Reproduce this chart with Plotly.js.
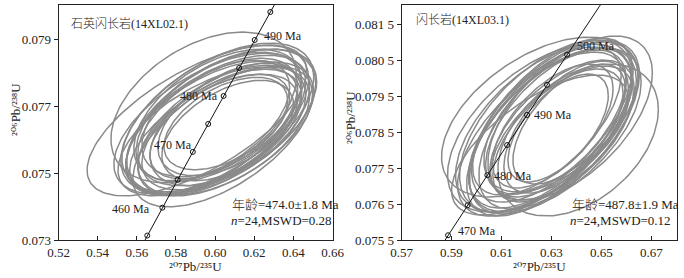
<!DOCTYPE html>
<html><head><meta charset="utf-8">
<script src="https://cdn.plot.ly/plotly-3.0.1.min.js"></script>
<style>html,body{margin:0;padding:0;background:#fff}#chart{width:684px;height:278px}</style>
</head><body><div id="chart"></div>
<script>
// ---- Data: left sample 14XL02.1 (quartz diorite): ellipse centre, half-widths, correlation ----
const L_cx  = [0.5907,0.5942,0.6039,0.6034,0.6014,0.5993,0.6055,0.5998,0.6034,0.5973,0.6065,0.6014,0.6044,0.5963,0.6075,0.6024,0.5993,0.6055,0.6034,0.5993,0.6055,0.6014,0.5983,0.6065];
const L_cy  = [0.07657,0.07696,0.07609,0.07654,0.07642,0.07636,0.07666,0.07660,0.07630,0.07648,0.07642,0.07672,0.07624,0.07624,0.07660,0.07639,0.07657,0.07633,0.07675,0.07615,0.07648,0.07666,0.07639,0.07627];
const L_sx  = [0.0561,0.0474,0.0459,0.0485,0.0469,0.0449,0.0459,0.0480,0.0408,0.0490,0.0398,0.0429,0.0439,0.0459,0.0367,0.0357,0.0388,0.0449,0.0408,0.0429,0.0316,0.0490,0.0439,0.0337];
const L_sy  = [0.00225,0.00225,0.00210,0.00216,0.00210,0.00198,0.00204,0.00222,0.00180,0.00210,0.00180,0.00198,0.00192,0.00192,0.00168,0.00156,0.00180,0.00198,0.00186,0.00180,0.00138,0.00222,0.00204,0.00150];
const L_rho = [0.66,0.42,0.60,0.55,0.55,0.55,0.50,0.55,0.55,0.58,0.50,0.50,0.55,0.60,0.50,0.55,0.55,0.55,0.50,0.58,0.50,0.55,0.58,0.50];
const L_markAges  = [455,460,465,470,475,480,485,490,495];
const L_labelAges = [460,470,480,490];
const L_lineAges  = [445,505];

// ---- Data: right sample 14XL03.1 (diorite) ----
const R_cx  = [0.6254,0.6407,0.6375,0.6310,0.6290,0.6331,0.6278,0.6318,0.6262,0.6343,0.6302,0.6359,0.6270,0.6322,0.6298,0.6335,0.6254,0.6371,0.6282,0.6314,0.6254,0.6347,0.6306,0.6327];
const R_cy  = [0.078917,0.078278,0.078889,0.078611,0.078500,0.078694,0.078667,0.078778,0.078444,0.078556,0.078833,0.078639,0.078611,0.078472,0.078722,0.078833,0.078611,0.078722,0.078806,0.078556,0.078139,0.078444,0.078667,0.078611];
const R_sx  = [0.03936,0.03213,0.03293,0.03373,0.03293,0.03213,0.03454,0.02811,0.03373,0.02892,0.03213,0.02490,0.03534,0.02651,0.03293,0.03052,0.03695,0.02249,0.02972,0.03454,0.03534,0.02811,0.02410,0.02008];
const R_sy  = [0.002222,0.002111,0.002278,0.002389,0.002333,0.002333,0.002389,0.002000,0.002278,0.001944,0.002278,0.001833,0.002333,0.001778,0.002333,0.002000,0.002333,0.001667,0.002056,0.002278,0.001944,0.001889,0.001722,0.001500];
const R_rho = [0.50,0.40,0.55,0.60,0.62,0.60,0.58,0.60,0.62,0.58,0.62,0.60,0.56,0.62,0.62,0.56,0.55,0.60,0.62,0.58,0.65,0.60,0.60,0.60];
const R_markAges  = [470,475,480,485,490,495,500];
const R_labelAges = [470,480,490,500];
const R_lineAges  = [460,515];

const L_xticks = [0.52,0.54,0.56,0.58,0.60,0.62,0.64,0.66];
const L_xtext  = ['0.52','0.54','0.56','0.58','0.60','0.62','0.64','0.66'];
const L_yticks = [0.073,0.075,0.077,0.079];
const L_ytext  = ['0.073','0.075','0.077','0.079'];
const R_xticks = [0.57,0.59,0.61,0.63,0.65,0.67];
const R_xtext  = ['0.57','0.59','0.61','0.63','0.65','0.67'];
const R_yticks = [0.0755,0.0765,0.0775,0.0785,0.0795,0.0805,0.0815];
const R_ytext  = ['0.075 5','0.076 5','0.077 5','0.078 5','0.079 5','0.080 5','0.081 5'];

// U decay constants (per year) for the concordia curve
const L238 = 1.55125e-10, L235 = 9.8485e-10;
function conc(ageMa){ return [Math.exp(L235*ageMa*1e6)-1, Math.exp(L238*ageMa*1e6)-1]; }

function ellipses(cx,cy,sx,sy,rho,xa,ya){
  const xs=[],ys=[],N=160;
  for(let i=0;i<cx.length;i++){
    const r=rho[i], q=Math.sqrt(1-r*r);
    for(let k=0;k<=N;k++){
      const t=2*Math.PI*k/N;
      xs.push(cx[i]+sx[i]*Math.cos(t));
      ys.push(cy[i]+sy[i]*(r*Math.cos(t)+q*Math.sin(t)));
    }
    xs.push(null);ys.push(null);
  }
  return {x:xs,y:ys,xaxis:xa,yaxis:ya,mode:'lines',type:'scatter',
    line:{color:'#8a8a8a',width:1.5},hoverinfo:'skip',showlegend:false};
}
function lineTrace(range,xa,ya){
  const ages=[];
  for(let a=range[0];a<=range[1];a+=1) ages.push(a);
  return {x:ages.map(a=>conc(a)[0]),y:ages.map(a=>conc(a)[1]),xaxis:xa,yaxis:ya,
    mode:'lines',type:'scatter',line:{color:'#111',width:1},hoverinfo:'skip',showlegend:false};
}
function markTrace(ages,xa,ya){
  return {x:ages.map(a=>conc(a)[0]),y:ages.map(a=>conc(a)[1]),xaxis:xa,yaxis:ya,
    mode:'markers',type:'scatter',cliponaxis:false,
    marker:{symbol:'circle-open',size:5,color:'#111',line:{width:1,color:'#111'}},
    hoverinfo:'skip',showlegend:false};
}

const serif = 'Liberation Serif, "DejaVu Serif", "Noto Sans CJK SC", serif';
const fnt = (s,c)=>({family:serif,size:s,color:c||'#222'});

const data = [
  ellipses(L_cx,L_cy,L_sx,L_sy,L_rho,'x','y'),
  lineTrace(L_lineAges,'x','y'),
  markTrace(L_markAges,'x','y'),
  ellipses(R_cx,R_cy,R_sx,R_sy,R_rho,'x2','y2'),
  lineTrace(R_lineAges,'x2','y2'),
  markTrace(R_markAges,'x2','y2')
];

const W=684,H=278;
const axisBase = {showgrid:false,zeroline:false,showline:true,mirror:true,linecolor:'#222',linewidth:1,
  tickcolor:'#222',tickfont:fnt(13,'#222'),tickmode:'array',ticklen:4,tickwidth:1};

// label placement (style): [xanchor, xshift, yshift]
const L_lblStyle = {460:['right',-10,-1],470:['right',1,7],480:['right',-4,0],490:['left',7,4]};
const R_lblStyle = {470:['left',8,4],480:['left',5,-1],490:['left',5,0],500:['left',8,9]};

const ann = [];
L_labelAges.forEach(a=>{const p=conc(a),s=L_lblStyle[a];
  ann.push({xref:'x',yref:'y',x:p[0],y:p[1],text:a+' Ma',showarrow:false,xanchor:s[0],yanchor:'middle',xshift:s[1],yshift:s[2],font:fnt(12)});});
R_labelAges.forEach(a=>{const p=conc(a),s=R_lblStyle[a];
  ann.push({xref:'x2',yref:'y2',x:p[0],y:p[1],text:a+' Ma',showarrow:false,xanchor:s[0],yanchor:'middle',xshift:s[1],yshift:s[2],font:fnt(12)});});

const px=(v)=>v/W, py=(v)=>1-v/H;
function txt(x,y,t,s,anchor,angle,wt){return {xref:'paper',yref:'paper',x:px(x),y:py(y),text:t,showarrow:false,
  xanchor:anchor||'left',yanchor:'middle',font:Object.assign(fnt(s),wt?{weight:wt}:{}),textangle:angle||0};}
ann.push(txt(69,24,'石英闪长岩(14XL02.1)',12,'left',0,300));
ann.push(txt(414,20,'闪长岩(14XL03.1)',12,'left',0,300));
ann.push(txt(230,204,'年龄=474.0±1.8 Ma',13,'left',0,300));
ann.push(txt(229,220,'<i>n</i>=24,MSWD=0.28',13));
ann.push(txt(570,204,'年龄=487.8±1.9 Ma',13,'left',0,300));
ann.push(txt(568,220,'<i>n</i>=24,MSWD=0.12',13));
ann.push(txt(195.5,266.5,'²⁰⁷Pb/²³⁵U',13,'center'));
ann.push(txt(539,266.5,'²⁰⁷Pb/²³⁵U',13,'center'));
ann.push(txt(15,110,'²⁰⁶Pb/²³⁸U',13,'center',-90));
ann.push(txt(350,118,'²⁰⁶Pb/²³⁸U',13,'center',-90));

const layout = {
  width:W,height:H,margin:{l:0,r:0,t:0,b:0},paper_bgcolor:'#fff',plot_bgcolor:'#fff',showlegend:false,
  xaxis:Object.assign({},axisBase,{domain:[58.5/W,332.5/W],range:[0.52,0.66],anchor:'y',ticks:'inside',tickvals:L_xticks,ticktext:L_xtext}),
  yaxis:Object.assign({},axisBase,{domain:[38/H,273/H],range:[0.073,0.08002],anchor:'x',ticks:'outside',tickvals:L_yticks,ticktext:L_ytext}),
  xaxis2:Object.assign({},axisBase,{domain:[401.5/W,677/W],range:[0.57,0.6803],anchor:'y2',ticks:'inside',tickvals:R_xticks,ticktext:R_xtext}),
  yaxis2:Object.assign({},axisBase,{domain:[38/H,273/H],range:[0.0755,0.08203],anchor:'x2',ticks:'outside',tickvals:R_yticks,ticktext:R_ytext}),
  annotations:ann
};
Plotly.newPlot('chart',data,layout,{staticPlot:true,displayModeBar:false});
</script></body></html>
